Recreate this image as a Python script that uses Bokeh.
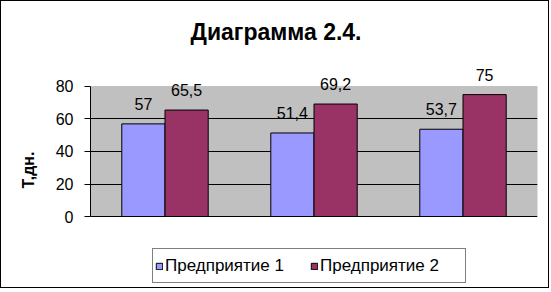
from bokeh.plotting import figure
from bokeh.models import (ColumnDataSource, Legend, LegendItem, LabelSet, BoxAnnotation,
                          Title, Span, FixedTicker)
from bokeh.transform import dodge
from bokeh.core.properties import value
from bokeh.embed import file_html
from bokeh.resources import INLINE

categories = ["A", "B", "C"]
series1 = [57, 51.4, 53.7]
series2 = [65.5, 69.2, 75]
series_names = ["Предприятие 1", "Предприятие 2"]
y_ticks = [0, 20, 40, 60, 80]
grid_ticks = [20, 40, 60]

def fmt(v):
    return ("%g" % v).replace(".", ",")

src = ColumnDataSource(data=dict(
    cat=categories,
    s1=series1, s2=series2,
    l1=[fmt(v) for v in series1], l2=[fmt(v) for v in series2],
))

FONT = "Liberation Sans"
# frame: 0 at y=215 (figure px), 80 at y=85 -> 1.625 px per unit
p = figure(width=549, height=288, x_range=categories, y_range=(-44.92, 102.15),
           output_backend="svg", toolbar_location=None,
           min_border_left=89, min_border_right=13, min_border_top=49, min_border_bottom=0)
p.styles = {"border": "1px solid black"}
p.background_fill_color = "white"
p.border_fill_color = "white"
p.outline_line_color = None

plot_area = BoxAnnotation(bottom=0, top=80, fill_color="#C0C0C0", fill_alpha=1,
                          line_color="#808080", line_width=1, level="image")
p.add_layout(plot_area)

bw = 0.29
r1 = p.vbar(x=dodge("cat", -bw / 2, range=p.x_range), top="s1", width=bw, source=src,
            fill_color="#9999FF", line_color="black", line_width=1)
r2 = p.vbar(x=dodge("cat", bw / 2, range=p.x_range), top="s2", width=bw, source=src,
            fill_color="#993366", line_color="black", line_width=1)

for col, lab, off in (("s1", "l1", -bw / 2), ("s2", "l2", bw / 2)):
    ls = LabelSet(x=dodge("cat", off, range=p.x_range), y=col, text=lab, source=src,
                  text_align="center", text_baseline="alphabetic", y_offset=14,
                  text_font=value(FONT), text_font_size=value("16px"), text_color="black")
    p.add_layout(ls)

p.add_layout(Span(location=0, dimension="width", line_color="black", line_width=1))

p.ygrid.ticker = FixedTicker(ticks=grid_ticks)
p.ygrid.grid_line_color = "black"
p.ygrid.grid_line_alpha = 1
p.xgrid.visible = False
p.xaxis.visible = False

p.yaxis.ticker = FixedTicker(ticks=y_ticks)
p.yaxis.bounds = (0, 80)
p.yaxis.major_label_text_font = FONT
p.yaxis.major_label_text_font_size = "16px"
p.yaxis.major_label_text_color = "black"
p.yaxis.major_label_standoff = 11
p.yaxis.axis_line_color = "black"
p.yaxis.major_tick_line_color = "black"
p.yaxis.major_tick_out = 6
p.yaxis.major_tick_in = 0
p.yaxis.minor_tick_line_color = None
p.yaxis.axis_label = "Т,дн."
p.yaxis.axis_label_text_font = FONT
p.yaxis.axis_label_text_font_size = "16px"
p.yaxis.axis_label_text_font_style = "bold"
p.yaxis.axis_label_text_color = "black"
p.yaxis.axis_label_standoff = 16

p.title = Title(text="Диаграмма 2.4.", align="left", offset=100, text_font=FONT,
                text_font_size="23px", text_font_style="bold", text_color="black",
                vertical_align="middle")
p.title.standoff = 10

legend = Legend(items=[LegendItem(label=series_names[0], renderers=[r1]),
                       LegendItem(label=series_names[1], renderers=[r2])],
                orientation="horizontal", location=(62, 6),
                label_text_font=FONT, label_text_font_size="17px", label_text_color="black",
                glyph_width=8, glyph_height=8, spacing=2, label_standoff=2,
                label_width=143, label_height=29,
                padding=2, margin=0,
                border_line_color="black", border_line_width=1,
                background_fill_color="white", background_fill_alpha=1)
p.add_layout(legend, "center")

open("out.html", "w").write(file_html(p, INLINE))
